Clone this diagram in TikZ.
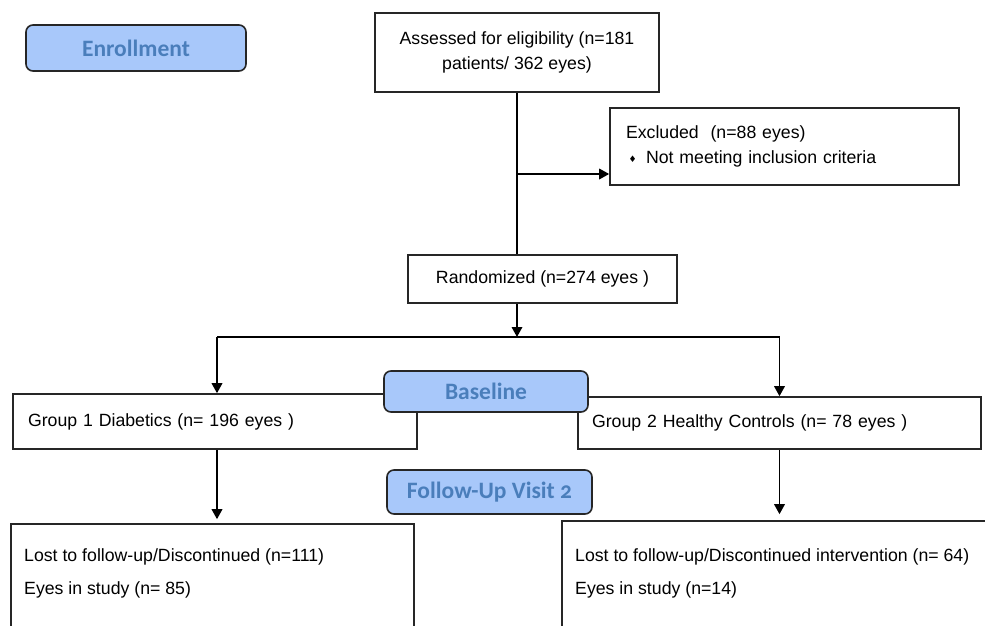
\documentclass[tikz,border=0pt]{standalone}
\usepackage{fontspec}
\setmainfont{Liberation Sans}
\newfontfamily\labfont[Numbers=OldStyle]{Carlito}
\newfontfamily\symfont{DejaVu Sans}
\usetikzlibrary{arrows.meta,calc}
\definecolor{labfill}{HTML}{A8C8FA}
\definecolor{labtext}{HTML}{4A7EBB}
\definecolor{edge}{HTML}{262626}
\begin{document}
\begin{tikzpicture}[x=1pt,y=-1pt,
  box/.style={draw=edge, line width=1.6pt, inner sep=0pt, font=\fontsize{17.7}{25}\selectfont},
  leftbox/.style={box, align=left},
  lab/.style={draw=edge, line width=1.6pt, rounded corners=7pt, fill=labfill, text=labtext,
    font=\labfont\bfseries\fontsize{23.5}{28}\selectfont, inner sep=0pt},
  txt/.style={inner sep=0pt, anchor=west, font=\fontsize{17.7}{21}\selectfont},
  conn/.style={line width=1.8pt, draw=black},
  arr/.style={conn, -{Triangle[width=10.5pt,length=10pt]}}]
\useasboundingbox (0,0) rectangle (985,625);
\clip (0,0) rectangle (985,625);

% main boxes
\node[box, minimum width=284pt, minimum height=79pt, align=center] (assess) at (517,52.5)
  {Assessed for eligibility (n=181\\patients/ 362 eyes)};
\node[leftbox, minimum width=349pt, minimum height=77pt, inner xsep=16pt, text width=317pt] (excl) at (784.5,146.5)
  {Excluded\ \ (n=88 eyes)\\\makebox[20pt][l]{\hspace{2.5pt}\raisebox{1.5pt}{\symfont\fontsize{9}{9}\selectfont ♦}}Not meeting inclusion criteria};
\node[box, minimum width=269pt, minimum height=48pt] (rand) at (542.5,279) {Randomized (n=274 eyes )};
\node[leftbox, minimum width=404pt, minimum height=55pt, inner xsep=15pt, text width=374pt] (g1) at (215,421.5)
  {Group 1 Diabetics (n= 196 eyes )};
\node[leftbox, minimum width=403pt, minimum height=52pt, inner xsep=14pt, text width=375pt] (g2) at (779.5,423)
  {Group 2 Healthy Controls (n= 78 eyes )};
\node[box, minimum width=403pt, minimum height=116pt] (lost1) at (212.5,582) {};
\node[box, minimum width=438pt, minimum height=119pt] (lost2) at (781,580.5) {};
\node[txt] (l1a) at (24,557) {Lost to follow-up/Discontinued (n=111)};
\node[txt] (l1b) at (24,590) {Eyes in study (n= 85)};
\node[txt] (l2a) at (575,556.5) {Lost to follow-up/Discontinued intervention (n= 64)};
\node[txt] (l2b) at (575,590) {Eyes in study (n=14)};

% phase labels
\node[lab, minimum width=220pt, minimum height=46pt] (enroll) at (136,48) {Enrollment};
\node[lab, minimum width=204pt, minimum height=41pt] (base) at (486,391.5) {Baseline};
\node[lab, minimum width=205pt, minimum height=44pt] (follow) at (489.5,492) {Follow-Up Visit 2};

% connectors
\coordinate (branch) at (517,174);
\coordinate (split) at (517,337);
\coordinate (splitL) at (217,337);
\coordinate (splitR) at (779.5,337);
\draw[conn] (assess.south) -- (assess.south |- rand.north);
\draw[arr] (branch) -- (branch -| excl.west);
\draw[arr] (split |- rand.south) -- (split);
\draw[conn] (splitL) -- (splitR);
\draw[line width=2.6pt] (449,337) -- (548,337);
\draw[arr] (splitL) -- (splitL |- g1.north);
\draw[arr] (splitR) -- (splitR |- g2.north);
\draw[arr, shorten >=4pt] (splitL |- g1.south) -- (splitL |- lost1.north);
\draw[arr, shorten >=6pt] (g2.south) -- (g2.south |- lost2.north);
\end{tikzpicture}
\end{document}
